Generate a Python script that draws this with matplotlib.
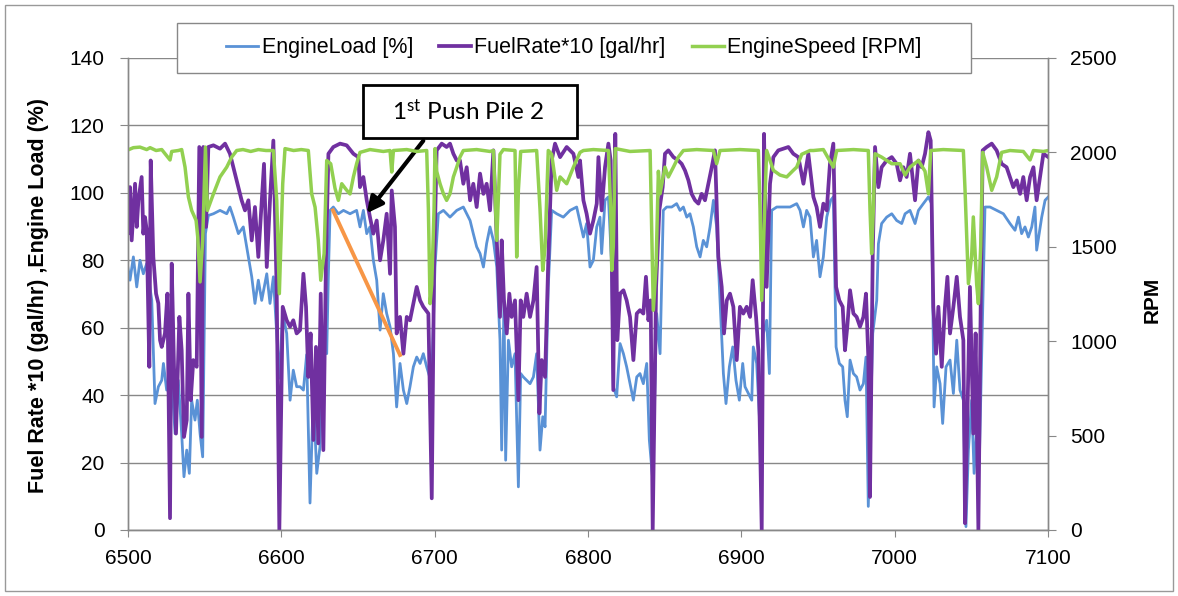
import matplotlib
matplotlib.use("Agg")
import matplotlib.pyplot as plt
from matplotlib.patches import Rectangle
from matplotlib.lines import Line2D

# values
load_x = [6499.1, 6501.3, 6503.5, 6505.7, 6507.8, 6510.0, 6512.2, 6515.5, 6517.6, 6519.8,
          6522.0, 6523.1, 6525.2, 6528.5, 6530.7, 6532.8, 6535.0, 6536.5, 6538.3, 6540.0,
          6541.5, 6543.7, 6545.2, 6547.0, 6548.7, 6550.5, 6552.4, 6555.7, 6560.0, 6564.4,
          6566.5, 6568.7, 6572.0, 6575.2, 6577.4, 6580.7, 6582.8, 6585.0, 6587.2, 6590.5,
          6592.6, 6594.8, 6597.0, 6598.7, 6600.9, 6603.5, 6605.7, 6607.8, 6610.0, 6612.2,
          6614.4, 6616.5, 6618.7, 6620.9, 6623.1, 6625.2, 6627.4, 6629.6, 6630.7, 6631.8,
          6633.9, 6637.2, 6640.5, 6644.8, 6649.1,
          6651.3, 6653.5, 6655.7, 6657.8, 6660.0, 6662.2, 6664.4, 6666.5, 6668.7, 6670.9,
          6673.1, 6675.2, 6677.4, 6679.6, 6681.8, 6683.9, 6686.1, 6688.3, 6690.5, 6692.6,
          6694.8, 6697.0, 6698.1, 6700.2, 6702.4, 6705.7, 6710.0, 6714.4, 6718.7, 6723.1,
          6725.2, 6727.4, 6729.6, 6731.8, 6733.9, 6736.1, 6738.3, 6740.5, 6742.6, 6743.7,
          6745.2, 6746.3, 6748.1, 6750.2, 6752.4, 6754.6, 6756.1, 6757.8, 6760.0, 6762.2,
          6764.4, 6766.5, 6768.7, 6770.5, 6772.0, 6774.1, 6776.3, 6779.6, 6783.9, 6788.3,
          6792.6,
          6797.0, 6799.1, 6801.3, 6803.5, 6805.7, 6807.8, 6808.9, 6811.1, 6813.3, 6815.5,
          6816.5, 6818.7, 6820.9, 6823.1, 6825.2, 6827.4, 6829.6, 6831.8, 6833.9, 6836.1,
          6838.3, 6840.0, 6842.2, 6844.8, 6847.0, 6849.1, 6851.3, 6854.6, 6857.8, 6860.0,
          6862.2, 6864.4, 6866.5, 6868.7, 6870.9, 6873.1, 6875.2, 6877.4, 6879.6, 6881.8,
          6883.9, 6886.1, 6888.3, 6890.0, 6892.2, 6894.4, 6896.5, 6898.7, 6900.9, 6902.4,
          6904.6, 6906.8, 6907.8, 6910.0, 6912.2, 6914.4, 6916.5, 6918.3, 6919.8, 6923.1,
          6927.4, 6931.8, 6936.1, 6938.3, 6940.5, 6942.6, 6944.8,
          6947.0, 6949.1, 6951.3, 6953.5, 6955.7, 6958.3, 6960.0, 6961.8, 6963.9, 6966.1,
          6967.6, 6969.1, 6970.9, 6973.1, 6975.2, 6977.4, 6979.6, 6981.3, 6982.8, 6985.7,
          6988.3, 6989.4, 6991.5, 6994.8, 6998.1, 7001.3, 7004.6, 7006.8, 7010.0, 7013.3,
          7015.5, 7018.7, 7022.0, 7024.1, 7025.7, 7027.4, 7029.6, 7031.3, 7033.5, 7036.1,
          7038.3, 7040.5, 7042.6, 7044.8, 7046.5, 7048.1, 7050.2, 7051.8, 7053.5, 7055.2,
          7056.8, 7058.9, 7062.2, 7066.5, 7070.9, 7075.2, 7078.5, 7080.7, 7082.8, 7085.0,
          7087.2, 7089.4, 7091.5, 7092.6, 7095.9, 7098.1, 7100.2]
load_y = [80.0, 74.1, 81.0, 72.1, 80.0, 76.0, 79.0, 68.1, 37.5, 42.5,
          44.4, 49.4, 41.5, 44.4, 28.6, 44.4, 28.6, 15.8, 23.7, 16.8,
          38.5, 32.6, 38.5, 28.6, 21.7, 87.9, 93.3, 93.8, 94.8, 93.8,
          95.8, 92.8, 87.9, 89.9, 84.0, 75.1, 67.2, 74.1, 68.1, 76.0,
          67.2, 75.1, 58.3, 45.0, 64.2, 58.3, 38.5, 47.4, 42.5, 42.5,
          41.5, 52.0, 8.0, 40.5, 16.8, 24.7, 58.3, 52.3, 76.0, 94.8,
          95.8, 93.8, 94.8, 93.8, 94.8,
          89.9, 94.8, 87.9, 89.9, 80.0, 74.1, 59.3, 70.1, 64.2, 60.3,
          52.3, 36.5, 49.4, 41.5, 37.5, 42.5, 48.4, 51.3, 49.4, 52.3,
          48.4, 45.0, 45.0, 78.0, 93.8, 94.8, 92.8, 94.8, 95.8, 91.8,
          87.9, 84.0, 82.0, 78.0, 85.0, 89.9, 85.9, 78.0, 56.3, 23.7,
          68.1, 20.7, 56.3, 48.4, 52.3, 12.8, 46.4, 45.4, 44.4, 43.4,
          45.4, 52.3, 23.7, 33.6, 30.6, 72.1, 94.8, 93.8, 92.8, 94.8,
          95.8,
          86.9, 90.9, 78.0, 80.0, 89.9, 92.8, 82.0, 97.8, 98.8, 78.0,
          42.5, 39.5, 55.3, 52.3, 48.4, 43.4, 38.5, 45.4, 46.4, 43.4,
          49.4, 26.7, 15.0, 64.2, 52.3, 94.8, 95.8, 95.8, 96.8, 94.8,
          95.8, 92.8, 93.8, 89.9, 84.0, 81.0, 85.9, 84.0, 89.9, 97.8,
          89.9, 68.1, 46.4, 37.5, 48.4, 54.3, 44.4, 38.5, 49.4, 42.5,
          40.5, 38.5, 54.3, 49.4, 30.0, 58.3, 62.2, 46.4, 94.8, 95.8,
          95.8, 95.8, 96.8, 94.8, 89.9, 94.8, 92.8,
          81.0, 85.9, 75.1, 81.0, 92.8, 97.8, 98.8, 54.3, 49.4, 48.4,
          38.5, 33.6, 50.4, 46.4, 45.4, 41.5, 43.4, 51.3, 7.0, 58.3,
          68.1, 84.9, 90.9, 92.8, 93.8, 91.8, 90.9, 93.8, 94.8, 90.9,
          94.8, 96.8, 98.8, 96.8, 36.5, 48.4, 43.4, 31.6, 48.4, 50.4,
          40.5, 56.3, 41.5, 38.5, 1.0, 23.7, 38.5, 16.8, 30.6, 20.0,
          52.3, 95.8, 95.8, 94.8, 93.8, 90.9, 88.9, 92.8, 87.9, 89.9,
          86.9, 89.9, 95.8, 83.0, 92.8, 97.8, 98.8]

fuel_x = [6499.1, 6500.2, 6501.3, 6502.4, 6504.6, 6505.7, 6506.8, 6508.9, 6510.0, 6511.1,
          6512.2, 6513.9, 6514.8, 6516.5, 6518.3, 6519.8, 6520.9, 6522.0, 6524.1, 6525.7,
          6527.4, 6528.5, 6530.0, 6531.3, 6533.5, 6535.0, 6536.5, 6538.3, 6539.4, 6540.9,
          6542.6, 6544.8, 6546.5, 6548.1, 6549.1, 6550.9, 6552.4, 6555.7, 6560.0, 6563.3,
          6566.5, 6568.7, 6572.0, 6574.1, 6576.3, 6578.5, 6580.7, 6582.8, 6585.0, 6588.7,
          6590.5, 6592.6, 6594.8, 6597.0, 6598.7, 6600.9, 6603.5, 6605.7, 6607.8, 6610.0,
          6612.2, 6614.4, 6616.1, 6617.6, 6619.1, 6620.9, 6622.6, 6624.1, 6625.7, 6627.4,
          6629.1, 6630.7, 6633.9, 6638.3, 6642.6, 6647.0, 6650.2,
          6651.3, 6653.5, 6655.7, 6657.8, 6660.0, 6662.2, 6664.4, 6666.5, 6668.7, 6670.9,
          6672.0, 6674.1, 6675.2, 6677.4, 6679.6, 6681.8, 6683.9, 6686.1, 6688.3, 6690.5,
          6692.6, 6695.9, 6698.1, 6699.6, 6701.3, 6704.6, 6707.8, 6710.0, 6712.2, 6714.4,
          6716.5, 6718.7, 6720.9, 6723.1, 6725.2, 6727.4, 6729.6, 6731.8, 6733.9, 6736.1,
          6738.3, 6740.5, 6742.6, 6743.7, 6745.2, 6747.0, 6748.7, 6750.2, 6752.4, 6754.6,
          6756.1, 6757.8, 6760.0, 6762.2, 6764.4, 6766.5, 6768.3, 6769.8, 6772.0, 6774.1,
          6776.3, 6778.5, 6781.8, 6786.1, 6790.5, 6793.7, 6794.8,
          6797.0, 6799.1, 6801.3, 6803.5, 6805.7, 6806.8, 6808.9, 6811.1, 6813.3, 6814.8,
          6816.5, 6817.8, 6819.1, 6820.9, 6823.1, 6825.2, 6827.4, 6829.6, 6831.8, 6833.9,
          6836.1, 6837.8, 6839.4, 6840.9, 6842.2, 6844.4, 6846.5, 6848.7, 6850.2, 6852.4,
          6855.7, 6858.9, 6861.1, 6863.3, 6865.5, 6867.6, 6869.8, 6872.0, 6874.1, 6876.3,
          6878.5, 6880.7, 6882.8, 6885.0, 6887.2, 6888.7, 6890.5, 6892.6, 6894.8, 6897.0,
          6899.1, 6901.3, 6903.5, 6905.7, 6907.4, 6909.6, 6911.1, 6913.3, 6914.8, 6916.5,
          6918.7, 6920.9, 6924.1, 6927.4, 6930.7, 6933.9, 6937.2, 6940.5, 6943.7,
          6947.0, 6949.1, 6951.3, 6953.5, 6955.7, 6957.8, 6960.0, 6961.8, 6963.9, 6966.1,
          6967.6, 6969.1, 6970.9, 6973.1, 6975.2, 6977.4, 6979.6, 6981.3, 6982.8, 6983.9,
          6985.7, 6987.2, 6989.4, 6991.5, 6994.8, 6998.1, 7001.3, 7003.5, 7005.7, 7007.8,
          7010.0, 7013.3, 7015.5, 7017.6, 7019.8, 7022.0, 7023.5, 7025.2, 7027.0, 7028.5,
          7030.7, 7032.8, 7034.4, 7036.1, 7038.3, 7040.5, 7042.6, 7044.8, 7045.9, 7047.4,
          7049.1, 7051.3, 7052.8, 7054.6, 7056.1, 7057.4, 7060.0, 7063.3, 7066.5, 7069.8,
          7073.0, 7075.2, 7077.4, 7079.6, 7081.8, 7083.9, 7086.1, 7088.3, 7090.5, 7092.6,
          7094.8, 7097.0, 7100.2]
fuel_y = [99.7, 87.9, 101.7, 85.9, 102.7, 89.9, 97.8, 104.7, 87.9, 92.8,
          88.9, 48.4, 109.6, 81.0, 70.1, 67.2, 56.3, 54.3, 58.3, 70.1,
          3.5, 79.0, 48.4, 28.6, 63.2, 53.3, 27.6, 32.6, 70.1, 38.5,
          50.4, 48.4, 113.6, 27.6, 113.6, 89.9, 113.6, 114.1, 113.1, 114.6,
          111.6, 107.6, 101.7, 97.8, 94.8, 97.8, 85.9, 95.8, 81.0, 108.6,
          78.0, 97.8, 115.5, 70.1, 0.0, 66.2, 62.2, 60.3, 62.2, 58.3,
          59.3, 76.0, 66.2, 45.4, 58.3, 26.7, 54.3, 25.7, 70.1, 23.7,
          80.0, 111.6, 113.6, 114.6, 114.1, 111.6, 110.6,
          101.7, 104.7, 97.8, 92.8, 87.9, 91.8, 80.0, 85.9, 93.8, 76.0,
          100.7, 89.9, 58.3, 63.2, 52.3, 63.2, 62.2, 67.2, 72.1, 68.1,
          66.2, 64.2, 9.4, 78.0, 112.6, 114.6, 113.6, 114.6, 111.6, 109.6,
          109.6, 102.7, 107.6, 97.8, 102.7, 95.8, 105.7, 99.7, 102.7, 94.8,
          112.6, 85.9, 63.2, 85.9, 68.1, 58.3, 70.1, 63.2, 68.1, 38.5,
          68.1, 63.2, 70.1, 63.2, 68.1, 78.0, 34.6, 50.4, 45.4, 80.0,
          109.6, 114.6, 110.6, 113.6, 111.6, 104.7, 109.6,
          97.8, 93.8, 87.9, 91.8, 96.8, 110.6, 94.8, 107.6, 114.6, 109.6,
          41.5, 117.5, 56.3, 70.1, 71.1, 68.1, 63.2, 50.4, 64.2, 65.2,
          64.2, 75.1, 62.2, 68.1, 0.0, 72.1, 94.8, 101.7, 111.6, 112.6,
          110.6, 109.6, 108.6, 106.6, 103.7, 99.7, 97.8, 96.8, 99.7, 97.8,
          102.7, 107.6, 112.6, 81.0, 72.1, 58.3, 68.1, 70.1, 66.2, 50.4,
          66.2, 64.2, 66.2, 63.2, 74.1, 63.2, 53.3, 0.0, 117.5, 72.1,
          102.7, 110.6, 112.6, 113.1, 113.6, 111.6, 110.6, 102.7, 111.6,
          98.8, 95.8, 89.9, 96.8, 94.8, 108.6, 114.6, 72.1, 68.1, 66.2,
          53.3, 60.3, 71.1, 64.2, 63.2, 60.3, 63.2, 70.1, 51.3, 9.8,
          82.0, 113.6, 101.7, 107.6, 109.6, 110.6, 108.6, 103.7, 107.6, 104.7,
          111.6, 97.8, 109.6, 107.6, 111.6, 118.0, 115.5, 66.2, 52.3, 66.2,
          48.4, 66.2, 75.1, 58.3, 66.2, 75.1, 63.2, 56.3, 2.0, 32.6,
          72.1, 28.6, 58.3, 0.0, 66.2, 112.6, 113.6, 114.6, 112.6, 108.6,
          107.6, 104.7, 101.7, 103.7, 99.7, 104.7, 97.8, 104.7, 107.6, 97.8,
          104.7, 111.6, 110.6]

speed_x = [6499.1, 6503.5, 6507.8, 6512.2, 6514.4, 6518.3, 6522.0, 6527.4, 6528.5, 6532.8,
           6535.0, 6537.2, 6539.4, 6541.5, 6544.4, 6545.5, 6547.0, 6548.7, 6550.5, 6551.8,
           6555.7, 6560.0, 6564.4, 6567.6, 6570.9, 6575.0, 6580.0, 6585.0, 6590.0, 6594.8,
           6597.0, 6598.7, 6600.9, 6602.4, 6608.0, 6613.0, 6617.6, 6619.8, 6622.0, 6624.1,
           6625.7, 6627.9, 6629.6, 6632.2, 6635.0, 6637.2, 6639.4, 6642.6, 6644.8, 6647.0,
           6649.1,
           6651.3, 6657.8, 6666.5, 6670.9, 6672.0, 6673.1, 6681.8, 6688.3, 6694.8, 6695.9,
           6697.0, 6698.1, 6699.6, 6700.2, 6701.3, 6703.5, 6705.7, 6707.8, 6710.0, 6712.2,
           6714.4, 6716.5, 6718.7, 6727.4, 6736.1, 6738.3, 6740.5, 6742.6, 6744.8, 6752.4,
           6753.5, 6754.6, 6756.1, 6766.5, 6768.7, 6770.5, 6772.0, 6774.1, 6776.3, 6779.6,
           6781.8, 6786.1, 6790.5, 6794.8,
           6797.0, 6803.5, 6813.3, 6814.8, 6815.5, 6816.5, 6817.8, 6827.4, 6840.5, 6841.5,
           6842.6, 6844.4, 6845.9, 6847.0, 6850.2, 6852.4, 6855.7, 6858.9, 6862.2, 6870.9,
           6881.8, 6883.9, 6886.1, 6899.1, 6911.1, 6912.2, 6913.3, 6914.8, 6916.5, 6918.7,
           6920.9, 6925.2, 6929.6, 6933.9, 6936.1, 6939.4, 6944.8,
           6947.0, 6953.5, 6960.0, 6962.2, 6973.1, 6982.8, 6983.9, 6985.0, 6986.1, 6987.2,
           6991.5, 6998.1, 7003.5, 7006.8, 7010.0, 7015.5, 7019.8, 7022.0, 7023.5, 7031.7,
           7044.8, 7045.9, 7048.1, 7050.2, 7051.3, 7053.5, 7054.6, 7056.1, 7057.4, 7060.0,
           7063.3, 7066.5, 7069.8, 7075.2, 7083.9, 7088.3, 7090.5, 7097.0, 7100.2]
speed_y = [2010, 2025, 2028, 2015, 2025, 2010, 2015, 1960, 2005, 2010,
           2015, 1922, 1764, 1693, 1640, 1550, 1314, 1534, 2028, 1693,
           1780, 1870, 1922, 1975, 2010, 2015, 2005, 2015, 2010, 2010,
           1746, 1252, 1834, 2020, 2010, 2015, 2010, 1780, 1710, 1534,
           1323, 1464, 1957, 1940, 1810, 1746, 1834, 1800, 1780, 1870,
           1940,
           2000, 2015, 2005, 2010, 1896, 2010, 2015, 2005, 2010, 1700,
           1199, 1300, 1700, 2020, 1900, 1834, 1781, 1746, 1781, 1870,
           1922, 1975, 2010, 2015, 2005, 2010, 1534, 1990, 2015, 2010,
           1446, 1800, 2005, 2010, 1700, 1375, 1500, 2010, 1990, 1799,
           1870, 1834, 1922, 2000,
           2010, 2015, 2010, 1700, 1375, 1500, 2020, 2005, 2010, 1600,
           1164, 1400, 1900, 1781, 1922, 1870, 1922, 1975, 2010, 2015,
           2010, 1940, 2010, 2015, 2010, 1700, 1216, 1600, 2010, 1957,
           1905, 1880, 1870, 1905, 1922, 1990, 2010,
           2010, 2015, 1922, 2010, 2015, 2010, 1700, 1464, 1700, 1993,
           1975, 1940, 1940, 1880, 1922, 1957, 1900, 1781, 2010, 2015,
           2010, 1800, 1305, 1450, 1658, 1300, 1199, 1500, 2000, 1922,
           1799, 1870, 2000, 2010, 2005, 1960, 2010, 2005, 2010]

x_ticks = [6500, 6600, 6700, 6800, 6900, 7000, 7100]
left_ticks = [0, 20, 40, 60, 80, 100, 120, 140]
right_ticks = [0, 500, 1000, 1500, 2000, 2500]

plt.rcParams['font.family'] = ['Liberation Sans', 'DejaVu Sans']
plt.rcParams['mathtext.default'] = 'regular'

c_load = '#5A92D6'
c_fuel = '#7030A0'
c_speed = '#92D050'
grey = '#888888'

fig = plt.figure(figsize=(11.78, 5.96), dpi=100)
ax = fig.add_axes([0.10866, 0.11074, 0.78098, 0.79195])

ax.plot(load_x, load_y, color=c_load, lw=2.0, label='EngineLoad [%]', zorder=3)
ax.plot(fuel_x, fuel_y, color=c_fuel, lw=2.7, label='FuelRate*10 [gal/hr]', zorder=4)
ax.set_xlim(6500, 7100)
ax.set_ylim(0, 140)
ax.set_xticks(x_ticks)
ax.set_yticks(left_ticks)
ax.grid(axis='y', color=grey, lw=1.0)
ax.set_axisbelow(True)

ax2 = ax.twinx()
ax2.plot(speed_x, speed_y, color=c_speed, lw=2.5, label='EngineSpeed [RPM]')
ax2.set_ylim(0, 2500)
ax2.set_yticks(right_ticks)

for a in (ax, ax2):
    a.spines['top'].set_visible(False)
    for s in ('left', 'right', 'bottom'):
        a.spines[s].set_color(grey)
        a.spines[s].set_linewidth(1.0)
ax.tick_params(axis='y', direction='out', length=6, color=grey, labelsize=15, pad=11)
ax.tick_params(axis='x', direction='out', length=5, color=grey, labelsize=15, pad=9)
ax2.tick_params(axis='y', direction='out', length=6, color=grey, labelsize=15, pad=10)

fig.text(0.033, 0.505, 'Fuel Rate *10 (gal/hr) ,Engine Load (%)', rotation=90,
         ha='center', va='center', fontsize=15.5, fontweight='bold')
fig.text(0.978, 0.497, 'RPM', rotation=90, ha='center', va='center',
         fontsize=15, fontweight='bold')

# legend: own white box, entries centred inside it
fig.patches.append(Rectangle((177 / 1178, 1 - 73 / 596), 794 / 1178, 50 / 596,
                             transform=fig.transFigure, facecolor='white',
                             edgecolor=grey, lw=1.0, zorder=4))
handles = [Line2D([], [], color=c_load, lw=2.0),
           Line2D([], [], color=c_fuel, lw=2.7),
           Line2D([], [], color=c_speed, lw=2.5)]
labels = ['EngineLoad [%]', 'FuelRate*10 [gal/hr]', 'EngineSpeed [RPM]']
leg = fig.legend(handles, labels, loc='center', ncol=3,
                 bbox_to_anchor=(0.4871, 0.9195), fontsize=15.5, frameon=False,
                 handlelength=1.5, handletextpad=0.15, columnspacing=1.2,
                 borderpad=0.2, borderaxespad=0)
leg.set_zorder(5)

# callout box, arrow and orange marker line
ax.add_patch(Rectangle((6653.3, 116.4), 139.5, 15.5, facecolor='white',
                       edgecolor='black', lw=2.0, zorder=6, clip_on=False))
ax.text(6722, 124.1, '1$^{st}$ Push Pile 2', ha='center', va='center',
        fontsize=17.5, family=['Lato', 'DejaVu Sans'], zorder=7)
ax.annotate('', xy=(6654.6, 93.3), xytext=(6693.7, 116.1),
            arrowprops=dict(arrowstyle='-|>', color='black', lw=3.0,
                            mutation_scale=24), zorder=7)
ax.plot([6633.7, 6677.4], [94.8, 51.9], color='#F79646', lw=2.8, zorder=5)

fig.patches.append(Rectangle((5 / 1178, 5 / 596), 1168 / 1178, 586 / 596,
                             transform=fig.transFigure, fill=False,
                             edgecolor='#999999', lw=1.0))

fig.savefig('out.png', dpi=100)
